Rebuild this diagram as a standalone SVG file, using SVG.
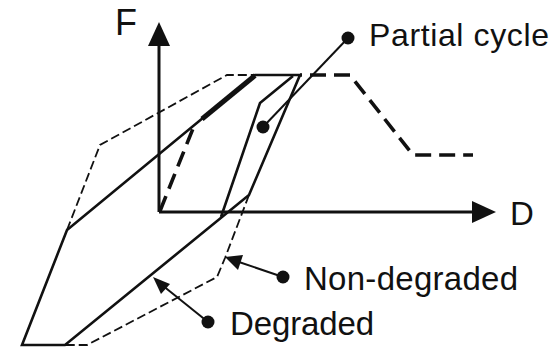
<svg xmlns="http://www.w3.org/2000/svg" width="555" height="347" viewBox="0 0 555 347">
<defs>
<style>
.lbl{font-family:"Liberation Sans",Arial,sans-serif;fill:#111;}
.axis{stroke:#111;stroke-width:3;fill:none;}
.deg{stroke:#111;stroke-width:2.6;fill:none;stroke-linejoin:miter;}
.nondeg{stroke:#111;stroke-width:1.8;fill:none;stroke-dasharray:9 4;}
.bb{stroke:#111;stroke-width:3.6;fill:none;stroke-dasharray:16 8;}
.lead{stroke:#111;stroke-width:2;fill:none;}
</style>
</defs>
<rect width="555" height="347" fill="#fff"/>
<g id="axes">
<path class="axis" d="M159,212 L159,40 M159,212 L478,212"/>
<polygon points="159,22 148,46 170,46" fill="#111"/>
<polygon points="496,212 472,201 472,223" fill="#111"/>
</g>
<g id="curves">
<path id="nondegraded" class="nondeg" d="M67,230 L100,145 L227,75 L256,75 M249,195 L225,258 L217,277 L87,345 L65,345"/>
<path id="degraded" class="deg" d="M22,345 L67,230 L255,75 L300,75 L249,195 L65,345 Z"/>
<path id="partial" class="deg" d="M221,217 L260,103 L293,76"/>
<path id="backbone" class="bb" d="M160,211 L194,126"/>
<path id="backbone2" d="M202,119 L255,75.5" stroke="#111" stroke-width="5" fill="none"/>
<path id="backbone3" class="bb" d="M300,75 L350,75 L413,155 L473,155" stroke-dashoffset="-10"/>
</g>
<g id="connectors">
<path class="lead" d="M348,38 L263,127"/>
<circle cx="348" cy="38" r="6.5" fill="#111"/>
<circle cx="263" cy="127" r="6.5" fill="#111"/>
<path class="lead" d="M283,277 L236,261"/>
<polygon points="225,257 243,255 238,270" fill="#111"/>
<circle cx="283" cy="277" r="6.5" fill="#111"/>
<path class="lead" d="M208,322 L162,285"/>
<polygon points="153,277 170,284 161,294" fill="#111"/>
<circle cx="208" cy="322" r="6.5" fill="#111"/>
</g>
<g id="labels">
<text class="lbl" x="115" y="35" font-size="36">F</text>
<text class="lbl" x="510" y="225" font-size="33">D</text>
<text class="lbl" x="369" y="46" font-size="32" textLength="180">Partial cycle</text>
<text class="lbl" x="304" y="290" font-size="33" textLength="214">Non-degraded</text>
<text class="lbl" x="230" y="335" font-size="33" textLength="144">Degraded</text>
</g>
</svg>
